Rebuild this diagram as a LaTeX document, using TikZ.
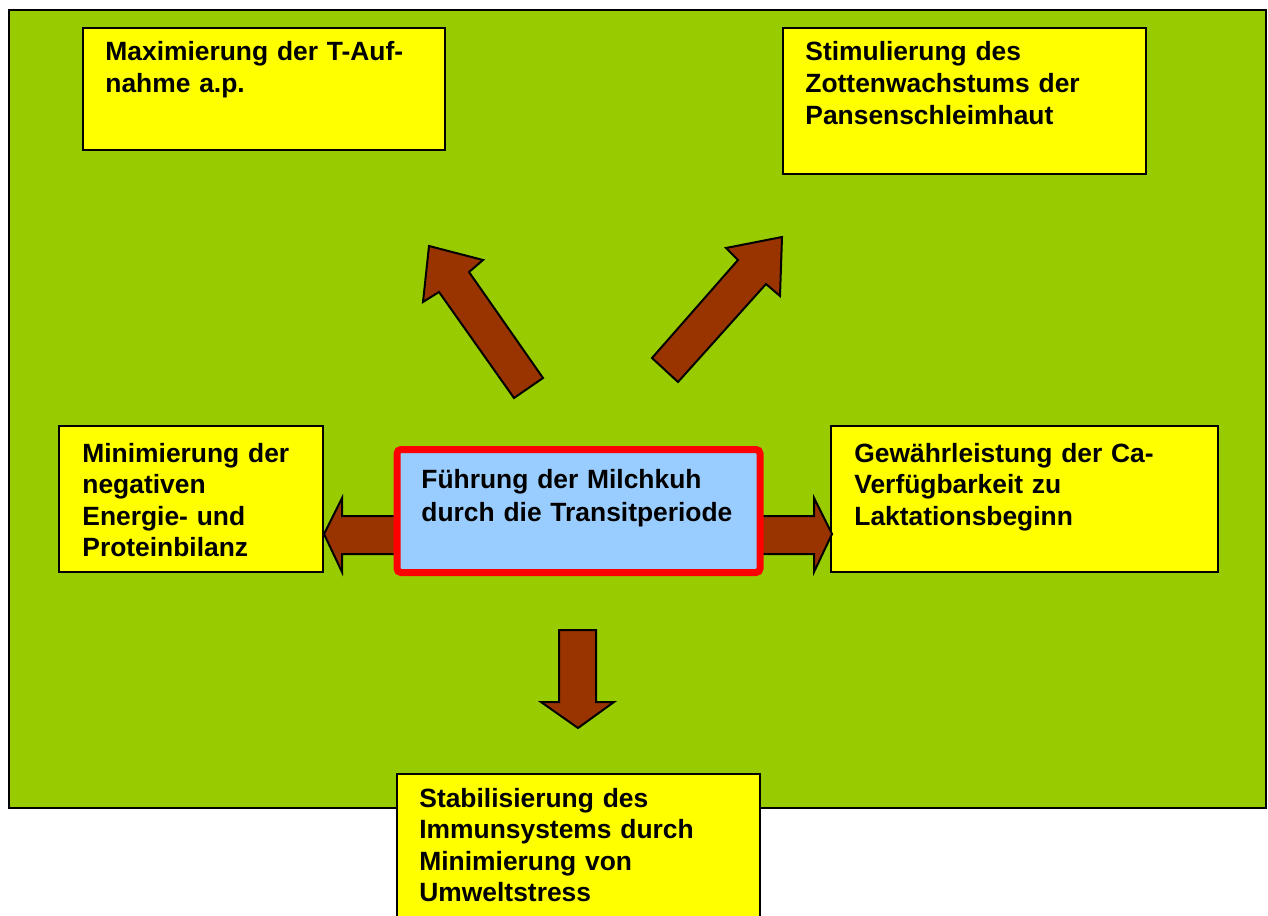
\documentclass[tikz,border=0pt]{standalone}
\usepackage{fontspec}
\setmainfont{Liberation Sans}
\definecolor{bggreen}{HTML}{99CC00}
\definecolor{boxyellow}{HTML}{FFFF00}
\definecolor{arrowbrown}{HTML}{993300}
\definecolor{centerblue}{HTML}{99CCFF}
\definecolor{centerred}{HTML}{FF0000}
\tikzset{
  ybox/.style={draw=black, line width=1pt, fill=boxyellow, rectangle, anchor=north west, inner sep=0pt, outer sep=0pt},
  cbox/.style={draw=centerred, line width=3.5pt, fill=centerblue, rectangle, rounded corners=2pt, anchor=north west, inner sep=0pt, outer sep=0pt},
  txt/.style={anchor=base west, inner sep=0pt, text width=200pt, align=left, font=\fontsize{13.2pt}{15.75pt}\selectfont\bfseries},
  blockarrow/.style={draw=black, line width=1pt, fill=arrowbrown, line join=miter}
}
\begin{document}
\begin{tikzpicture}[x=0.5pt,y=-0.5pt]
\useasboundingbox (0,0) rectangle (1268,915);
\clip (0,0) rectangle (1268,915);
% background
\draw[line width=1pt, fill=bggreen] (9,10) rectangle (1266,808);

% boxes
\node[ybox, minimum width=181pt, minimum height=61pt] (b1) at (83,28) {};
\node[ybox, minimum width=181.5pt, minimum height=73pt] (b2) at (783,28) {};
\node[ybox, minimum width=132pt, minimum height=73pt] (b3) at (59,426) {};
\node[ybox, minimum width=193.5pt, minimum height=73pt] (b5) at (831,426) {};
\node[ybox, minimum width=181.5pt, minimum height=80pt] (b6) at (397,774) {};

% block arrows
\draw[blockarrow] (429,246) -- (483,260) -- (469,272) -- (543,378) -- (514,398) -- (439,292) -- (423,302) -- cycle;
\draw[blockarrow] (782,237) -- (780,296) -- (766,284) -- (678,382) -- (652,358) -- (738,260) -- (726,248) -- cycle;
\draw[blockarrow] (324,534) -- (342,498) -- (342,516) -- (400,516) -- (400,554) -- (342,554) -- (342,572) -- cycle;
\draw[blockarrow] (832,534) -- (814,572) -- (814,554) -- (757,554) -- (757,516) -- (814,516) -- (814,498) -- cycle;
\draw[blockarrow] (578,728) -- (541,702) -- (559,702) -- (559,630) -- (596,630) -- (596,702) -- (614,702) -- cycle;

% center box
\node[cbox, minimum width=181.5pt, minimum height=61.5pt] (c) at (397,449.5) {};

% texts
\node[txt] (t1) at (105,61) {Maximierung der T-Auf-\\nahme a.p.};
\node[txt, font=\fontsize{13.2pt}{16pt}\selectfont\bfseries] (t2) at (805,61) {Stimulierung des\\Zottenwachstums der\\Pansenschleimhaut};
\node[txt] (t3) at (82,462) {Minimierung der\\negativen\\Energie- und\\Proteinbilanz};
\node[txt, font=\fontsize{13.2pt}{16.5pt}\selectfont\bfseries] (tc) at (421,488) {Führung der Milchkuh\\durch die Transitperiode};
\node[txt] (t5) at (854,462) {Gewährleistung der Ca-\\Verfügbarkeit zu\\Laktationsbeginn};
\node[txt] (t6) at (419,807) {Stabilisierung des\\Immunsystems durch\\Minimierung von\\Umweltstress};
\end{tikzpicture}
\end{document}
